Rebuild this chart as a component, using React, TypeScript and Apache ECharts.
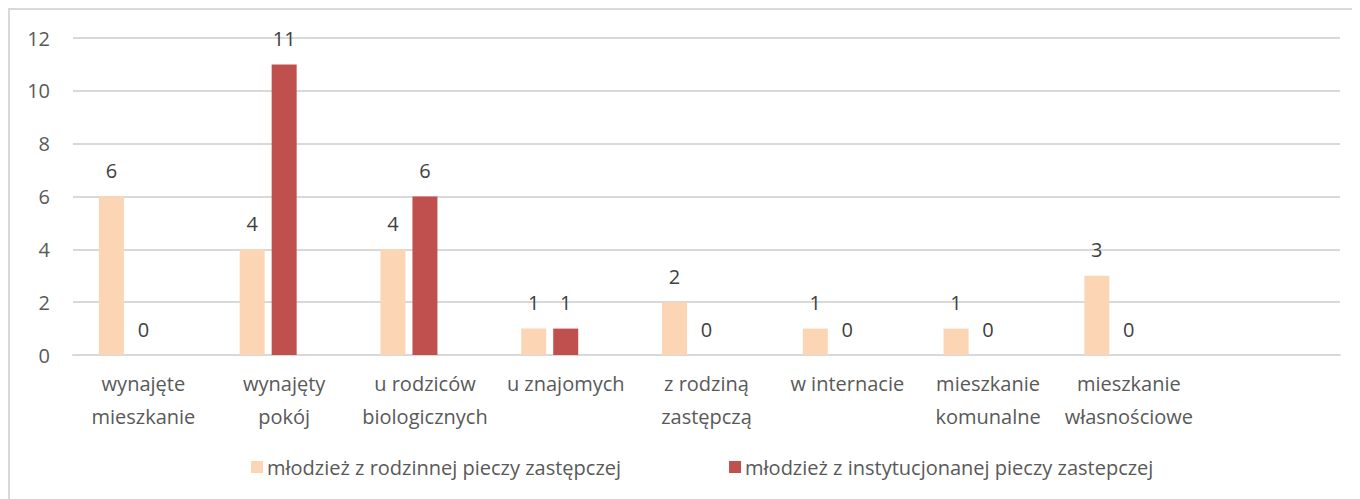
import React, { useEffect, useRef } from "react";
import * as echarts from "echarts";

const categories = [
  "wynajęte\nmieszkanie",
  "wynajęty\npokój",
  "u rodziców\nbiologicznych",
  "u znajomych",
  "z rodziną\nzastępczą",
  "w internacie",
  "mieszkanie\nkomunalne",
  "mieszkanie\nwłasnościowe",
  "",
];
const seriesNames = [
  "młodzież z rodzinnej pieczy zastępczej",
  "młodzież z instytucjonanej pieczy zastepczej",
];
const familyCare = [6, 4, 4, 1, 2, 1, 1, 3, null];
const institutionalCare = [0, 11, 6, 1, 0, 0, 0, 0, null];
const emptySeries = [null, null, null, null, null, null, null, null, null];
const yTicks = { min: 0, max: 12, interval: 2 };
const titleText = "Wykres 11. Miejsce zamieszkania wychowanków";

const FONT = "'Open Sans', sans-serif";
const FS = 20;

export default function App() {
  const ref = useRef<HTMLDivElement>(null);
  useEffect(() => {
    document.documentElement.style.overflow = "hidden";
    document.body.style.overflow = "hidden";
    const chart = echarts.init(ref.current!, null, { renderer: "svg" });
    const label = {
      show: true,
      position: "top",
      distance: 16,
      color: "#404040",
      fontSize: FS,
      fontFamily: FONT,
    };
    chart.setOption({
      animation: false,
      textStyle: { fontFamily: FONT },
      grid: { left: 63, right: 20, top: 28, bottom: 144, containLabel: false },
      legend: {
        data: seriesNames,
        left: 236,
        top: 442,
        itemWidth: 12,
        itemHeight: 12,
        itemGap: 108,
        icon: "rect",
        textStyle: { color: "#595959", fontSize: FS, fontFamily: FONT, padding: [0, 0, 0, -1] },
      },
      xAxis: {
        type: "category",
        data: categories,
        axisLine: { show: true, lineStyle: { color: "#d9d9d9", width: 2 } },
        axisTick: { show: false },
        axisLabel: {
          interval: 0,
          color: "#595959",
          fontSize: FS,
          lineHeight: 33,
          margin: 12,
          fontFamily: FONT,
        },
      },
      yAxis: {
        type: "value",
        min: yTicks.min,
        max: yTicks.max,
        interval: yTicks.interval,
        axisLine: { show: false },
        axisTick: { show: false },
        splitLine: { lineStyle: { color: "#d9d9d9", width: 2 } },
        axisLabel: { color: "#595959", fontSize: FS, margin: 23, fontFamily: FONT },
      },
      series: [
        {
          name: seriesNames[0],
          type: "bar",
          data: familyCare,
          barWidth: 25,
          barGap: "28%",
          itemStyle: { color: "#FCD5B5" },
          label,
        },
        {
          name: seriesNames[1],
          type: "bar",
          data: institutionalCare,
          barWidth: 25,
          barGap: "28%",
          itemStyle: { color: "#C0504D" },
          label,
        },
        {
          name: "",
          type: "bar",
          data: emptySeries,
          barWidth: 25,
          barGap: "28%",
          itemStyle: { color: "transparent" },
        },
      ],
    });
    return () => chart.dispose();
  }, []);
  return (
    <div
      style={{
        position: "relative",
        width: 1352,
        height: 491,
        boxSizing: "border-box",
        borderTop: "2px solid #d9d9d9",
        borderLeft: "2px solid #d9d9d9",
      }}
    >
      <div
        style={{
          position: "absolute",
          top: -23,
          left: -2,
          whiteSpace: "nowrap",
          fontFamily: "'Liberation Serif', serif",
          fontWeight: "bold",
          fontSize: 18.67,
          lineHeight: "20px",
          color: "#000",
        }}
      >
        {titleText}
      </div>
      <div ref={ref} style={{ width: 1350, height: 489 }} />
    </div>
  );
}
